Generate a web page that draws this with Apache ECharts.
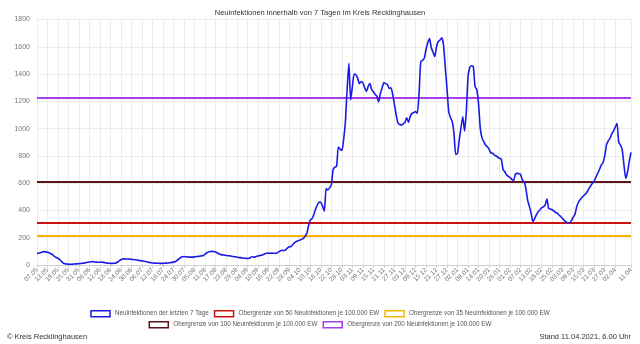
<!DOCTYPE html>
<html>
<head>
<meta charset="utf-8">
<script src="https://cdn.jsdelivr.net/npm/echarts@6/dist/echarts.min.js"></script>
<style>
  html, body { margin: 0; padding: 0; background: #fff; }
  #chart { width: 640px; height: 344px; }
</style>
</head>
<body>
<div id="chart"></div>
<script>
// Daily 7-day new infections, Kreis Recklinghausen, 07.05.2020 – 11.04.2021
const startDate = '2020-05-07';
const dayCount = 340;

const cases = [
  85, 86, 90, 96, 98, 96, 93, 88, 82, 74,
  62, 55, 48, 40, 26, 14, 9, 7, 6, 5,
  6, 7, 8, 9, 10, 11, 13, 14, 17, 20,
  22, 24, 25, 22, 21, 20, 20, 21, 19, 16,
  14, 13, 12, 12, 13, 15, 22, 32, 40, 44,
  45, 44, 44, 43, 41, 40, 38, 37, 34, 32,
  30, 28, 26, 22, 19, 17, 15, 14, 13, 13,
  12, 12, 12, 13, 14, 15, 17, 19, 21, 26,
  34, 45, 55, 61, 62, 60, 59, 58, 58, 58,
  60, 62, 63, 65, 67, 70, 80, 90, 97, 99,
  100, 98, 96, 88, 80, 76, 74, 72, 70, 68,
  67, 64, 62, 60, 58, 55, 54, 52, 50, 49,
  48, 50, 56, 60, 58, 63, 66, 68, 72, 76,
  82, 86, 87, 86, 87, 86, 86, 88, 96, 104,
  108, 105, 112, 126, 134, 136, 150, 164, 172, 178,
  183, 188, 195, 210, 232, 290, 330, 340, 370, 410,
  440, 462, 458, 430, 395, 560, 550, 565, 590, 700,
  718, 725, 865, 850, 840, 920, 1050, 1290, 1478, 1210,
  1310, 1400, 1395, 1370, 1330, 1345, 1335, 1300, 1272, 1310,
  1330, 1285, 1270, 1250, 1238, 1195, 1260, 1300, 1338, 1330,
  1322, 1295, 1300, 1250, 1175, 1100, 1040, 1030, 1026, 1035,
  1046, 1080, 1046, 1090, 1112, 1118, 1125, 1112, 1246, 1490,
  1500, 1515, 1580, 1630, 1661, 1595, 1560, 1527, 1600, 1637,
  1650, 1666, 1612, 1450, 1290, 1120, 1080, 1051, 960, 810,
  818, 920, 1010, 1087, 982, 1124, 1380, 1450, 1461, 1454,
  1307, 1285, 1180, 1000, 930, 904, 880, 867, 850, 822,
  819, 806, 800, 790, 782, 775, 700, 684, 660, 650,
  640, 628, 620, 665, 672, 670, 665, 623, 610, 562,
  476, 430, 380, 318, 340, 367, 390, 403, 420, 427,
  440, 484, 415, 410, 405, 396, 385, 379, 365, 354,
  340, 325, 315, 310, 310, 325, 350, 371, 427, 460,
  480, 495, 508, 520, 537, 560, 581, 600, 616, 645,
  672, 700, 733, 750, 800, 880, 910, 929, 960, 982,
  1010, 1039, 899, 880, 843, 733, 635, 680, 760, 826
];

// Upper limits per 100.000 inhabitants, converted to absolute cases
const limitNames = [
  'Obergrenze von 50 Neuinfektionen je 100.000 EW',
  'Obergrenze von 35 Neuinfektionen je 100.000 EW',
  'Obergrenze von 100 Neuinfektionen je 100.000 EW',
  'Obergrenze von 200 Neuinfektionen je 100.000 EW'
];
const limitValues = [307, 215, 614, 1228];
const limitColors = ['#cc1111', '#f7b500', '#5c1414', '#a83ee6'];

const casesName = 'Neuinfektionen der letzten 7 Tage';
const casesColor = '#1a1ae6';

const yTicks = { min: 0, max: 1800, step: 200 };
const labelEvery = 6;

// Build dd.mm category labels
const dates = [];
{
  const d = new Date(startDate + 'T12:00:00');
  for (let i = 0; i < dayCount; i++) {
    const dd = String(d.getDate()).padStart(2, '0');
    const mm = String(d.getMonth() + 1).padStart(2, '0');
    dates.push(dd + '.' + mm);
    d.setDate(d.getDate() + 1);
  }
}

// Every 6th day is labelled; the last day always gets its own label
const last = dayCount - 1;
const showTick = (idx) => (idx % labelEvery === 0 && last - idx >= labelEvery) || idx === last;

const font = 'Liberation Sans, Arial, sans-serif';

const series = [{
  name: casesName,
  type: 'line',
  data: cases,
  showSymbol: false,
  smooth: 0.2,
  lineStyle: { color: casesColor, width: 1.6 },
  itemStyle: { color: casesColor },
  z: 5
}];
limitNames.forEach((n, k) => {
  series.push({
    name: n,
    type: 'line',
    data: [],
    itemStyle: { color: limitColors[k] },
    lineStyle: { color: limitColors[k] },
    markLine: {
      silent: true,
      symbol: ['none', 'none'],
      label: { show: false },
      lineStyle: { color: limitColors[k], width: 2, type: 'solid' },
      data: [{ yAxis: limitValues[k] }]
    }
  });
});

const legendItem = (name, color) => ({
  name,
  icon: 'rect',
  itemStyle: { color: '#fff', borderColor: color, borderWidth: 1.5 }
});

const legendCommon = {
  itemWidth: 19,
  itemHeight: 6,
  itemGap: 5,
  textStyle: { fontSize: 6.3, color: '#555', fontFamily: font },
  selectedMode: false
};

const chart = echarts.init(document.getElementById('chart'), null, { renderer: 'canvas' });
chart.setOption({
  animation: false,
  backgroundColor: '#fff',
  title: [{
    text: 'Neuinfektionen innerhalb von 7 Tagen im Kreis Recklinghausen',
    left: 'center',
    top: 4,
    textStyle: { fontSize: 7.5, fontWeight: 'normal', color: '#333', fontFamily: font }
  }, {
    text: '© Kreis Recklinghausen',
    left: 2,
    top: 328,
    textStyle: { fontSize: 7.5, fontWeight: 'normal', color: '#333', fontFamily: font }
  }, {
    text: 'Stand 11.04.2021, 6.00 Uhr',
    right: 4,
    top: 328,
    textStyle: { fontSize: 7.5, fontWeight: 'normal', color: '#333', fontFamily: font }
  }],
  legend: [
    Object.assign({
      top: 305,
      left: 'center',
      data: [
        legendItem(casesName, casesColor),
        legendItem(limitNames[0], limitColors[0]),
        legendItem(limitNames[1], limitColors[1])
      ]
    }, legendCommon),
    Object.assign({
      top: 316,
      left: 'center',
      data: [
        legendItem(limitNames[2], limitColors[2]),
        legendItem(limitNames[3], limitColors[3])
      ]
    }, legendCommon)
  ],
  grid: { left: 37, right: 9, top: 19.5, bottom: 79, containLabel: false },
  xAxis: {
    type: 'category',
    data: dates,
    boundaryGap: false,
    axisLine: { show: true, lineStyle: { color: '#d0d0d0' } },
    axisTick: { show: true, interval: showTick, length: 3, lineStyle: { color: '#d0d0d0' } },
    axisLabel: {
      interval: showTick,
      rotate: 45,
      fontSize: 6.5,
      color: '#777',
      fontFamily: font,
      margin: 4,
      hideOverlap: false,
      showMaxLabel: true
    },
    splitLine: { show: true, interval: showTick, lineStyle: { color: '#ececec', width: 1 } }
  },
  yAxis: {
    type: 'value',
    min: yTicks.min,
    max: yTicks.max,
    interval: yTicks.step,
    axisLine: { show: false },
    axisTick: { show: false },
    axisLabel: { fontSize: 7, color: '#777', fontFamily: font, margin: 7, formatter: (v) => String(v) },
    splitLine: { lineStyle: { color: '#ececec', width: 1 } }
  },
  series
});
</script>
</body>
</html>
